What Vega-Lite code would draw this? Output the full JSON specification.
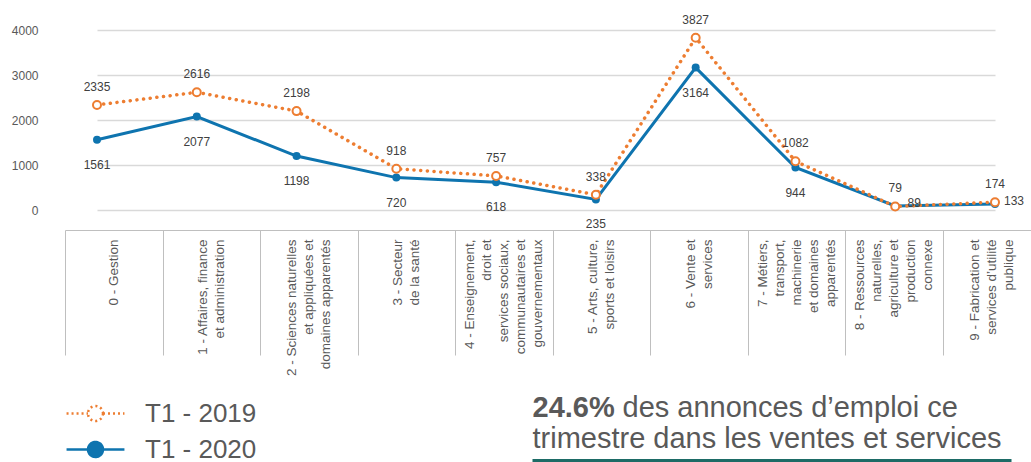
{
  "$schema": "https://vega.github.io/schema/vega-lite/v6.json",
  "width": 975,
  "height": 180,
  "autosize": "none",
  "padding": {"left": 50, "top": 30, "right": 6, "bottom": 252},
  "background": "white",
  "config": {"view": {"stroke": null}, "font": "Liberation Sans"},
  "data": {"values": [
    {"cat": "0 - Gestion", "series": "T1 - 2019", "value": 2335},
    {"cat": "1 - Affaires, finance|et administration", "series": "T1 - 2019", "value": 2616},
    {"cat": "2 - Sciences naturelles|et appliquées et|domaines apparentés", "series": "T1 - 2019", "value": 2198},
    {"cat": "3 - Secteur|de la santé", "series": "T1 - 2019", "value": 918},
    {"cat": "4 - Enseignement,|droit et|services sociaux,|communautaires et|gouvernementaux", "series": "T1 - 2019", "value": 757},
    {"cat": "5 - Arts, culture,|sports et loisirs", "series": "T1 - 2019", "value": 338},
    {"cat": "6 - Vente et|services", "series": "T1 - 2019", "value": 3827},
    {"cat": "7 - Métiers,|transport,|machinerie|et domaines|apparentés", "series": "T1 - 2019", "value": 1082},
    {"cat": "8 - Ressources|naturelles,|agriculture et|production|connexe", "series": "T1 - 2019", "value": 79},
    {"cat": "9 - Fabrication et|services d’utilité|publique", "series": "T1 - 2019", "value": 174},
    {"cat": "0 - Gestion", "series": "T1 - 2020", "value": 1561},
    {"cat": "1 - Affaires, finance|et administration", "series": "T1 - 2020", "value": 2077},
    {"cat": "2 - Sciences naturelles|et appliquées et|domaines apparentés", "series": "T1 - 2020", "value": 1198},
    {"cat": "3 - Secteur|de la santé", "series": "T1 - 2020", "value": 720},
    {"cat": "4 - Enseignement,|droit et|services sociaux,|communautaires et|gouvernementaux", "series": "T1 - 2020", "value": 618},
    {"cat": "5 - Arts, culture,|sports et loisirs", "series": "T1 - 2020", "value": 235},
    {"cat": "6 - Vente et|services", "series": "T1 - 2020", "value": 3164},
    {"cat": "7 - Métiers,|transport,|machinerie|et domaines|apparentés", "series": "T1 - 2020", "value": 944},
    {"cat": "8 - Ressources|naturelles,|agriculture et|production|connexe", "series": "T1 - 2020", "value": 89},
    {"cat": "9 - Fabrication et|services d’utilité|publique", "series": "T1 - 2020", "value": 133}
  ]},
  "layer": [
    {
      "mark": {"type": "point", "opacity": 0},
      "encoding": {
        "x": {
          "field": "cat", "type": "nominal", "sort": null,
          "scale": {"type": "band", "range": [15, 990], "paddingInner": 0, "paddingOuter": 0},
          "axis": {
            "orient": "bottom", "offset": 20,
            "domain": true, "domainColor": "#bfbfbf", "domainWidth": 1,
            "ticks": true, "tickBand": "extent", "tickSize": 125, "tickColor": "#bfbfbf", "tickWidth": 1,
            "grid": false,
            "labelAngle": -90, "labelAlign": "right", "labelBaseline": "middle",
            "labelPadding": -116, "labelFontSize": 13.5, "labelLineHeight": 17,
            "labelColor": "#595959", "labelFont": "Liberation Sans",
            "labelLimit": 0, "labelOverlap": false, "labelBound": false,
            "labelExpr": "split(datum.label, '|')",
            "labelOffset": {"expr": "-(length(split(datum.label, '|')) - 1) * 8.5"},
            "title": "des annonces d’emploi ce",
            "titleX": 572, "titleY": 186, "titleAlign": "left", "titleBaseline": "alphabetic", "titleAngle": 0,
            "titleFontSize": 29, "titleFontWeight": "normal", "titleColor": "#595959", "titleFont": "Liberation Sans"
          }
        }
      }
    },
    {
      "mark": {"type": "point", "opacity": 0},
      "encoding": {
        "x": {
          "field": "cat", "type": "nominal", "sort": null,
          "scale": {"type": "point", "range": [482, 961], "padding": 0},
          "axis": {
            "orient": "bottom", "offset": 250,
            "domain": true, "domainColor": "#1d6b66", "domainWidth": 3,
            "ticks": false, "labels": false, "grid": false,
            "title": "24.6%",
            "titleX": 482, "titleY": -44, "titleAlign": "left", "titleBaseline": "alphabetic", "titleAngle": 0,
            "titleFontSize": 29, "titleFontWeight": "bold", "titleColor": "#595959", "titleFont": "Liberation Sans"
          }
        }
      }
    },
    {
      "encoding": {
        "x": {
          "field": "cat", "type": "nominal", "sort": null,
          "scale": {"type": "point", "range": [47, 945], "padding": 0},
          "axis": null
        },
        "y": {
          "field": "value", "type": "quantitative",
          "scale": {"domain": [0, 4000]},
          "axis": {
            "values": [0, 1000, 2000, 3000, 4000], "format": "d",
            "grid": true, "gridColor": "#d9d9d9", "gridWidth": 1.5,
            "domain": false, "ticks": false,
            "labelPadding": 12, "labelFontSize": 12, "labelColor": "#595959", "labelFont": "Liberation Sans",
            "title": "trimestre dans les ventes et services",
            "titleX": 482, "titleY": 417, "titleAlign": "left", "titleBaseline": "alphabetic", "titleAngle": 0,
            "titleFontSize": 29, "titleFontWeight": "normal", "titleColor": "#595959", "titleFont": "Liberation Sans"
          }
        }
      },
      "layer": [
        {
          "transform": [{"filter": "datum.series === 'T1 - 2020'"}],
          "mark": {"type": "line", "strokeWidth": 3},
          "encoding": {
            "color": {
              "field": "series", "type": "nominal",
              "scale": {"domain": ["T1 - 2019", "T1 - 2020"], "range": ["#ED7D31", "#0E74AF"]},
              "legend": {
                "orient": "none", "legendX": 29, "legendY": 367, "direction": "vertical",
                "title": null,
                "labelFontSize": 26, "labelColor": "#595959", "labelFont": "Liberation Sans",
                "symbolType": "M-1.93,0H-0.5M0.5,0H1.93M0.5,0A0.5,0.5,0,1,1,-0.5,0A0.5,0.5,0,1,1,0.5,0",
                "symbolSize": 900, "symbolStrokeWidth": 2.5, "labelOffset": 33, "rowPadding": 6,
                "encode": {
                  "symbols": {
                    "update": {
                      "fill": {"signal": "datum.value === 'T1 - 2019' ? '#ffffff' : '#0E74AF'"},
                      "stroke": {"signal": "datum.value === 'T1 - 2019' ? '#F39A4E' : '#0E74AF'"},
                      "strokeDash": {"signal": "datum.value === 'T1 - 2019' ? [2, 3] : [1, 0]"},
                      "opacity": {"value": 1}
                    }
                  }
                }
              }
            }
          }
        },
        {
          "transform": [{"filter": "datum.series === 'T1 - 2020'"}],
          "mark": {"type": "point", "filled": true, "color": "#0E74AF", "size": 64, "opacity": 1}
        },
        {
          "transform": [{"filter": "datum.series === 'T1 - 2019'"}],
          "mark": {"type": "line", "color": "#ED7D31", "strokeWidth": 3.5, "strokeDash": [0.1, 6.6], "strokeCap": "round"}
        },
        {
          "transform": [{"filter": "datum.series === 'T1 - 2019'"}],
          "mark": {"type": "point", "filled": true, "fill": "#ffffff", "stroke": "#ED7D31", "strokeWidth": 2, "size": 64, "opacity": 1}
        },
        {
          "transform": [{"filter": "datum.series === 'T1 - 2019'"}],
          "mark": {"type": "text", "dy": -18, "fontSize": 12, "color": "#404040", "font": "Liberation Sans"},
          "encoding": {"text": {"field": "value", "type": "quantitative", "format": "d"}}
        },
        {
          "transform": [{"filter": "datum.series === 'T1 - 2020' && datum.value >= 150"}],
          "mark": {"type": "text", "dy": 25, "fontSize": 12, "color": "#404040", "font": "Liberation Sans"},
          "encoding": {"text": {"field": "value", "type": "quantitative", "format": "d"}}
        },
        {
          "transform": [{"filter": "datum.series === 'T1 - 2020' && datum.value < 150"}],
          "mark": {"type": "text", "dx": 19, "dy": -3, "fontSize": 12, "color": "#404040", "font": "Liberation Sans"},
          "encoding": {"text": {"field": "value", "type": "quantitative", "format": "d"}}
        }
      ]
    }
  ],
  "resolve": {"scale": {"x": "independent"}, "axis": {"x": "independent"}}
}
